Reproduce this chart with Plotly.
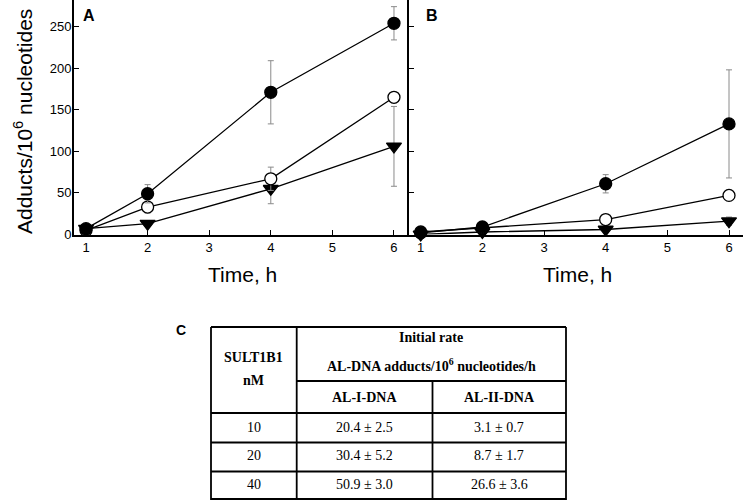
import plotly.graph_objects as go

W, H = 744, 502

# ---------------- data ----------------
time_h = [1, 2, 4, 6]

# Panel A (AL-I-DNA)
a_filled = [7, 49, 171, 254]
a_filled_err = [0, 11, 38, 20]
a_open = [5, 33, 67, 165]
a_open_err = [0, 7, 14, 0]
a_tri = [7, 13, 55, 106]
a_tri_err = [0, 0, 18, 48]

# Panel B (AL-II-DNA)
b_filled = [2, 9, 61, 133]
b_filled_err = [0, 0, 11, 65]
b_open = [3, 8, 18, 47]
b_open_err = [0, 0, 0, 0]
b_tri = [0, 3, 6, 16]
b_tri_err = [0, 0, 0, 5]

y_ticks = [0, 50, 100, 150, 200, 250]
x_ticks = [1, 2, 3, 4, 5, 6]

# Table C
sult_nM = ["10", "20", "40"]
al1_mean = [20.4, 30.4, 50.9]
al1_sd = [2.5, 5.2, 3.0]
al2_mean = [3.1, 8.7, 26.6]
al2_sd = [0.7, 1.7, 3.6]

# ---------------- helpers ----------------
def px(x):
    return x / W


def py(y):
    return 1 - y / H


fig = go.Figure()

ERR_COLOR = "#8a8a8a"


def add_series(x, y, err, symbol, fill, xa, ya):
    fig.add_trace(go.Scatter(
        x=x, y=y, xaxis=xa, yaxis=ya, mode="lines+markers",
        line=dict(color="black", width=1.3),
        marker=dict(symbol=symbol, size=13 if "triangle" in symbol else 12,
                    color=fill, line=dict(color="black", width=1.3)),
        error_y=dict(type="data", array=err, visible=True,
                     color=ERR_COLOR, thickness=1, width=3),
        cliponaxis=False, showlegend=False, hoverinfo="skip",
    ))


add_series(time_h, a_tri, a_tri_err, "triangle-down", "black", "x", "y")
add_series(time_h, a_open, a_open_err, "circle", "white", "x", "y")
add_series(time_h, a_filled, a_filled_err, "circle", "black", "x", "y")
add_series(time_h, b_tri, b_tri_err, "triangle-down", "black", "x2", "y2")
add_series(time_h, b_open, b_open_err, "circle", "white", "x2", "y2")
add_series(time_h, b_filled, b_filled_err, "circle", "black", "x2", "y2")

y_dom = [py(234.5), 1.0]
yrange = [0, 282]

axis_common = dict(
    showline=True, linecolor="black", linewidth=2,
    ticks="inside", ticklen=5, tickwidth=1.3, tickcolor="black",
    showgrid=False, zeroline=False, automargin=False,
    tickfont=dict(family="Liberation Sans, Arial", size=13, color="black"),
)

fig.update_layout(
    width=W, height=H,
    margin=dict(l=0, r=0, t=0, b=0),
    paper_bgcolor="white", plot_bgcolor="white",
    xaxis=dict(domain=[px(74), px(409)], range=[0.805, 6.244],
               tickvals=x_ticks, anchor="y", **axis_common),
    xaxis2=dict(domain=[px(409), px(743)], range=[0.81, 6.227],
                tickvals=x_ticks, anchor="y2", **axis_common),
    yaxis=dict(domain=y_dom, range=yrange, tickvals=y_ticks,
               anchor="x", ticklabelstandoff=-2, **axis_common),
    yaxis2=dict(domain=y_dom, range=yrange, tickvals=y_ticks,
                anchor="x2", showticklabels=False, **axis_common),
)

annots = []
sans = "Liberation Sans, Arial"
serif = "Liberation Serif, Times New Roman"


def ann(text, x, y, size, family, bold=False, angle=0, xanchor="center"):
    annots.append(dict(
        text=f"<b>{text}</b>" if bold else text,
        x=px(x), y=py(y), xref="paper", yref="paper",
        xanchor=xanchor, yanchor="middle", showarrow=False,
        textangle=angle,
        font=dict(family=family, size=size, color="black"),
    ))


ann("Adducts/10<sup>6</sup> nucleotides", 23, 122, 21, sans, angle=-90)
ann("Time, h", 242, 274, 21, sans)
ann("Time, h", 577, 274, 21, sans)
ann("A", 89, 16, 16, sans, bold=True)
ann("B", 432, 16, 16, sans, bold=True)
ann("C", 181, 330, 14, sans, bold=True)

# ---------------- table C ----------------
T_L, T_R, T_T, T_B = 211, 566, 327, 500
C1, C2 = 296.7, 432.5
R1, R2 = 381, 413
row_lines = [442.5, 471.5]
row_centers = [427, 455.5, 484]

shapes = []
lw = 1.8


def line(x0, y0, x1, y1):
    shapes.append(dict(type="line", xref="paper", yref="paper",
                       x0=px(x0), y0=py(y0), x1=px(x1), y1=py(y1),
                       line=dict(color="black", width=lw)))


line(T_L, T_T, T_R, T_T)
line(T_L, T_B - 1, T_R, T_B - 1)
line(T_L, T_T, T_L, T_B)
line(T_R, T_T, T_R, T_B)
line(C1, T_T, C1, T_B)
line(C2, R1, C2, T_B)
line(C1, R1, T_R, R1)
line(T_L, R2, T_R, R2)
for r in row_lines:
    line(T_L, r, T_R, r)

ann("SULT1B1", (T_L + C1) / 2, 357, 14, serif, bold=True)
ann("nM", (T_L + C1) / 2, 380, 14, serif, bold=True)
ann("Initial rate", (C1 + T_R) / 2, 337, 14, serif, bold=True)
ann("AL-DNA adducts/10<sup>6</sup> nucleotides/h", (C1 + T_R) / 2, 365, 14, serif, bold=True)
ann("AL-I-DNA", (C1 + C2) / 2, 397, 14, serif, bold=True)
ann("AL-II-DNA", (C2 + T_R) / 2, 397, 14, serif, bold=True)

for i, yc in enumerate(row_centers):
    ann(sult_nM[i], (T_L + C1) / 2, yc, 14, serif)
    ann(f"{al1_mean[i]:.1f} ± {al1_sd[i]:.1f}", (C1 + C2) / 2, yc, 14, serif)
    ann(f"{al2_mean[i]:.1f} ± {al2_sd[i]:.1f}", (C2 + T_R) / 2, yc, 14, serif)

fig.update_layout(annotations=annots, shapes=shapes)

fig.write_html(
    "out.html",
    config={"displayModeBar": False},
    post_script="document.body.style.margin='0';document.body.style.overflow='hidden';",
)
